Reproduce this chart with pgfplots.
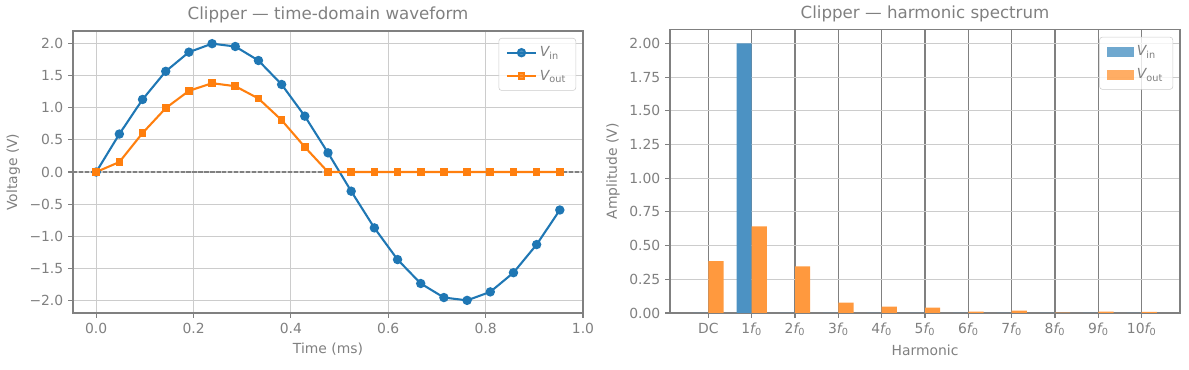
\documentclass[border=0pt]{standalone}
\usepackage{fontspec}
\setmainfont{DejaVu Sans}
\usepackage{pgfplots}
\pgfplotsset{compat=1.18}
\definecolor{cA}{HTML}{1F77B4}
\definecolor{cB}{HTML}{FF7F0E}
\definecolor{bA}{HTML}{4C92C3}
\definecolor{bB}{HTML}{FF993E}
\definecolor{txt}{HTML}{808080}
\definecolor{gridc}{HTML}{CCCCCC}
\pgfplotsset{
  common/.style={
    scale only axis,
    font=\fontsize{10}{12}\selectfont,
    every tick label/.append style={text=txt, font=\fontsize{10}{12}\selectfont},
    label style={text=txt, font=\fontsize{10}{12}\selectfont},
    title style={text=txt, font=\fontsize{12}{14}\selectfont, at={(0.5,1)}, anchor=south, yshift=-4pt},
    axis line style={draw=txt, line width=0.8pt},
    tick style={draw=txt, line width=0.8pt},
    tick align=outside,
    major tick length=3.5pt,
    tick pos=left,
    /pgf/number format/assume math mode=true,
    legend cell align=left,
    legend style={at={(1,1)}, anchor=north east, xshift=-5pt, yshift=-5pt,
      draw=gridc, rounded corners=2pt, fill=white, fill opacity=0.8, text opacity=1,
      text=txt, font=\fontsize{10}{12}\selectfont, row sep=4pt, inner xsep=5pt, inner ysep=4pt},
  }
}
\newcommand{\Vin}{{\itshape V}\textsubscript{in}}
\newcommand{\Vout}{{\itshape V}\textsubscript{out}}
\newcommand{\hf}[1]{#1{\itshape f}\textsubscript{0}}
\begin{document}
\begin{tikzpicture}
\path[use as bounding box] (0,0) rectangle (856.08pt,266.4pt);
\begin{axis}[common,
  at={(52.56pt,41.04pt)}, anchor=south west,
  width=367.2pt, height=203pt,
  xmin=-0.047619, xmax=1.0, ymin=-2.19, ymax=2.19,
  xtick={0,0.2,0.4,0.6,0.8,1.0},
  xticklabels={0.0,0.2,0.4,0.6,0.8,1.0},
  ytick={-2,-1.5,-1,-0.5,0,0.5,1,1.5,2},
  yticklabels={−2.0,−1.5,−1.0,−0.5,0.0,0.5,1.0,1.5,2.0},
  grid=major, major grid style={draw=gridc, line width=0.8pt},
  title={Clipper — time-domain waveform},
  xlabel={Time (ms)}, ylabel={Voltage (V)},
  legend image code/.code={\draw[#1, sharp corners, mark repeat=2, mark phase=2] plot coordinates {(0cm,0cm) (0.37cm,0cm) (0.74cm,0cm)};},
]
\addplot[forget plot, draw=txt, line width=0.8pt, dash pattern=on 3pt off 1.3pt] coordinates {(-0.047619,0) (1.0,0)};
\addplot[cA, line width=1.5pt, mark=*, mark size=2.6pt, mark options={solid, fill=cA, draw=cA}] coordinates {
(0.000000,0) (0.047619,0.590) (0.095238,1.127) (0.142857,1.564) (0.190476,1.862)
(0.238095,1.994) (0.285714,1.950) (0.333333,1.732) (0.380952,1.360) (0.428571,0.868)
(0.476190,0.298) (0.523810,-0.298) (0.571429,-0.868) (0.619048,-1.360) (0.666667,-1.732)
(0.714286,-1.950) (0.761905,-1.994) (0.809524,-1.862) (0.857143,-1.564) (0.904762,-1.127)
(0.952381,-0.590)};
\addlegendentry{\Vin}
\addplot[cB, line width=1.5pt, mark=square*, mark size=2.0pt, mark options={solid, fill=cB, draw=cB}] coordinates {
(0.000000,0) (0.047619,0.155) (0.095238,0.605) (0.142857,0.992) (0.190476,1.261)
(0.238095,1.380) (0.285714,1.333) (0.333333,1.142) (0.380952,0.806) (0.428571,0.388)
(0.476190,0) (0.523810,0) (0.571429,0) (0.619048,0) (0.666667,0)
(0.714286,0) (0.761905,0) (0.809524,0) (0.857143,0) (0.904762,0)
(0.952381,0)};
\addlegendentry{\Vout}
\end{axis}
\begin{axis}[common,
  at={(482.4pt,41.04pt)}, anchor=south west,
  width=367.2pt, height=203.8pt,
  xmin=-0.885, xmax=10.885, ymin=0, ymax=2.1,
  xtick={0,1,2,3,4,5,6,7,8,9,10},
  xticklabels={DC,\hf{1},\hf{2},\hf{3},\hf{4},\hf{5},\hf{6},\hf{7},\hf{8},\hf{9},\hf{10}},
  ytick={0,0.25,0.5,0.75,1,1.25,1.5,1.75,2},
  yticklabels={0.00,0.25,0.50,0.75,1.00,1.25,1.50,1.75,2.00},
  xmajorgrids, ymajorgrids,
  x grid style={draw=txt, line width=0.8pt},
  y grid style={draw=gridc, line width=0.8pt},
  title={Clipper — harmonic spectrum},
  xlabel={Harmonic}, ylabel={Amplitude (V)},
  legend image code/.code={\fill[#1, sharp corners] (0cm,-0.125cm) rectangle (0.7cm,0.125cm);},
]
\addplot[ybar, bar width=0.35, bar shift=-0.175, fill=bA, draw=none] coordinates {
(0,0) (1,2.0) (2,0) (3,0) (4,0) (5,0) (6,0) (7,0) (8,0) (9,0) (10,0)};
\addlegendentry{\Vin}
\addplot[ybar, bar width=0.35, bar shift=0.175, fill=bB, draw=none] coordinates {
(0,0.384) (1,0.642) (2,0.345) (3,0.077) (4,0.048) (5,0.040) (6,0.010) (7,0.018) (8,0.002) (9,0.010) (10,0.009)};
\addlegendentry{\Vout}
\end{axis}
\end{tikzpicture}
\end{document}
